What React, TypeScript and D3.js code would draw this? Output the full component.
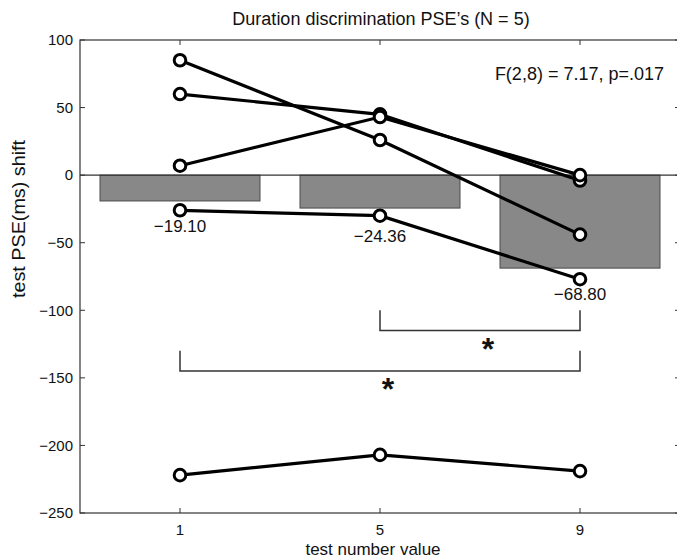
import React, { useEffect, useRef } from "react";
import * as d3 from "d3";

// test number values on the x axis
const conditions = ["1", "5", "9"];
// mean PSE shift (bars)
const barMeans = [-19.1, -24.36, -68.8];
const barLabels = ["\u221219.10", "\u221224.36", "\u221268.80"];
// individual subjects, one row per subject
const subj1 = [85, 26, -44];
const subj2 = [60, 45, -4];
const subj3 = [7, 43, 0];
const subj4 = [-26, -30, -77];
const subj5 = [-222, -207, -219];
const subjects = [subj1, subj2, subj3, subj4, subj5];
const yTicks = [100, 50, 0, -50, -100, -150, -200, -250];

const W = 677;
const H = 560;

function App() {
    const ref = useRef<SVGSVGElement>(null);

    useEffect(() => {
        const svg = d3.select(ref.current);
        svg.selectAll("*").remove();

        const left = 80, right = 680, top = 40, bottom = 513;
        const font = "'Liberation Sans', Arial, sans-serif";
        const axisColor = "#333";

        const x = d3.scaleLinear().domain([0.5, 3.5]).range([left, right]);
        const y = d3.scaleLinear().domain([-250, 100]).range([bottom, top]);

        // bars
        svg.append("g")
            .selectAll("rect")
            .data(barMeans)
            .join("rect")
            .attr("x", (d, i) => x(i + 1 - 0.4))
            .attr("width", x(1.8) - x(1))
            .attr("y", y(0))
            .attr("height", (d) => y(d) - y(0))
            .attr("fill", "#888")
            .attr("stroke", "#4a4a4a")
            .attr("stroke-width", 1);

        // zero line
        svg.append("line")
            .attr("x1", left).attr("x2", right)
            .attr("y1", y(0)).attr("y2", y(0))
            .attr("stroke", axisColor).attr("stroke-width", 1.2);

        // axis box
        svg.append("rect")
            .attr("x", left).attr("y", top)
            .attr("width", right - left).attr("height", bottom - top)
            .attr("fill", "none").attr("stroke", axisColor).attr("stroke-width", 1.2);

        // ticks (inward, on all sides)
        const tl = 5;
        yTicks.forEach((t) => {
            svg.append("line").attr("x1", left).attr("x2", left + tl)
                .attr("y1", y(t)).attr("y2", y(t)).attr("stroke", axisColor);
            svg.append("line").attr("x1", right).attr("x2", right - tl)
                .attr("y1", y(t)).attr("y2", y(t)).attr("stroke", axisColor);
            svg.append("text")
                .attr("x", left - 7).attr("y", y(t))
                .attr("dy", "0.35em")
                .attr("text-anchor", "end")
                .attr("font-family", font).attr("font-size", 15)
                .attr("fill", "#111")
                .text(t < 0 ? "\u2212" + Math.abs(t) : String(t));
        });
        conditions.forEach((c, i) => {
            svg.append("line").attr("x1", x(i + 1)).attr("x2", x(i + 1))
                .attr("y1", bottom).attr("y2", bottom - tl).attr("stroke", axisColor);
            svg.append("line").attr("x1", x(i + 1)).attr("x2", x(i + 1))
                .attr("y1", top).attr("y2", top + tl).attr("stroke", axisColor);
            svg.append("text")
                .attr("x", x(i + 1)).attr("y", bottom + 22)
                .attr("text-anchor", "middle")
                .attr("font-family", font).attr("font-size", 15)
                .attr("fill", "#111")
                .text(c);
        });

        // bar value labels, placed under the lowest non-outlier point
        const labelOffsets = [22, 26, 21];
        svg.append("g")
            .selectAll("text")
            .data(barMeans)
            .join("text")
            .attr("x", (d, i) => x(i + 1))
            .attr("y", (d, i) => {
                const lowest = Math.min(d, ...subjects.slice(0, 4).map((s) => s[i]));
                return y(lowest) + labelOffsets[i];
            })
            .attr("text-anchor", "middle")
            .attr("font-family", font).attr("font-size", 17)
            .attr("fill", "#111")
            .text((d, i) => barLabels[i]);

        // subject lines
        const line = d3.line<number>()
            .x((d, i) => x(i + 1))
            .y((d) => y(d));
        svg.append("g")
            .selectAll("path")
            .data(subjects)
            .join("path")
            .attr("d", (d) => line(d))
            .attr("fill", "none")
            .attr("stroke", "#000")
            .attr("stroke-width", 3.2);
        subjects.forEach((s) => {
            svg.append("g")
                .selectAll("circle")
                .data(s)
                .join("circle")
                .attr("cx", (d, i) => x(i + 1))
                .attr("cy", (d) => y(d))
                .attr("r", 5.8)
                .attr("fill", "#fff")
                .attr("stroke", "#000")
                .attr("stroke-width", 3);
        });

        // significance brackets
        const brackets = [
            { from: 2, to: 3, yTop: -100, yBot: -115, sx: 2.54, sy: -124 },
            { from: 1, to: 3, yTop: -130, yBot: -145, sx: 2.04, sy: -154 },
        ];
        const starSize = 32;
        brackets.forEach((b) => {
            svg.append("path")
                .attr("d", `M${x(b.from)},${y(b.yTop)}V${y(b.yBot)}H${x(b.to)}V${y(b.yTop)}`)
                .attr("fill", "none")
                .attr("stroke", "#333")
                .attr("stroke-width", 1.5);
            svg.append("text")
                .attr("x", x(b.sx)).attr("y", y(b.sy) + starSize * 0.53)
                .attr("text-anchor", "middle")
                .attr("font-family", font).attr("font-size", starSize)
                .attr("font-weight", "bold")
                .attr("fill", "#111")
                .text("*");
        });

        // stats annotation
        svg.append("text")
            .attr("x", 664).attr("y", 80)
            .attr("text-anchor", "end")
            .attr("font-family", font).attr("font-size", 18)
            .attr("fill", "#111")
            .text("F(2,8) = 7.17, p=.017");

        // title and axis labels
        svg.append("text")
            .attr("x", 381).attr("y", 25)
            .attr("text-anchor", "middle")
            .attr("font-family", font).attr("font-size", 18)
            .attr("fill", "#111")
            .text("Duration discrimination PSE\u2019s (N = 5)");
        svg.append("text")
            .attr("x", 373).attr("y", 555)
            .attr("text-anchor", "middle")
            .attr("font-family", font).attr("font-size", 17)
            .attr("fill", "#111")
            .text("test number value");
        svg.append("text")
            .attr("transform", `translate(25,219) rotate(-90)`)
            .attr("text-anchor", "middle")
            .attr("font-family", font).attr("font-size", 18)
            .attr("textLength", 158)
            .attr("lengthAdjust", "spacingAndGlyphs")
            .attr("fill", "#111")
            .text("test PSE(ms) shift");
    }, []);

    return (
        <svg
            ref={ref}
            width={W}
            height={H}
            style={{ position: "absolute", left: 0, top: 0, background: "#fff" }}
        ></svg>
    );
}

export default App;
